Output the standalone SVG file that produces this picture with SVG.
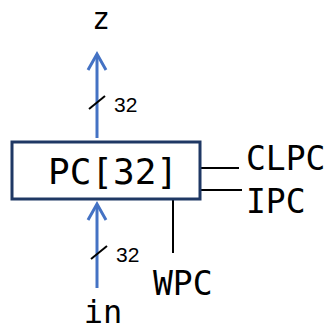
<svg xmlns="http://www.w3.org/2000/svg" width="329" height="330" viewBox="0 0 329 330">
<style>
.mono{font-family:"DejaVu Sans Mono","Liberation Mono",monospace;fill:#000}
.w{font-family:"Liberation Sans",Arial,sans-serif;font-size:21px;fill:#000}
.bus{stroke:#4472c4;stroke-width:3;fill:none}
.k{stroke:#000;stroke-width:2;fill:none}
</style>
<rect width="329" height="330" fill="#fff"/>
<g id="connectors">
<line class="bus" x1="97" y1="138" x2="97" y2="55"/>
<polyline class="bus" points="88,70 97,54 106,70"/>
<line class="k" x1="89" y1="109" x2="105" y2="96"/>
<line class="bus" x1="97" y1="288" x2="97" y2="205"/>
<polyline class="bus" points="88,220 97,204 106,220"/>
<line class="k" x1="91" y1="259" x2="107" y2="246"/>
<line class="k" x1="200" y1="168" x2="239" y2="168"/>
<line class="k" x1="200" y1="190" x2="242" y2="190"/>
<line class="k" x1="173" y1="200" x2="173" y2="253"/>
</g>
<g id="pc">
<rect x="12" y="142" width="188" height="57" fill="#fff" stroke="#1f3864" stroke-width="3"/>
<text class="mono" x="113" y="184" font-size="36" text-anchor="middle">PC[32]</text>
</g>
<g id="labels">
<text class="mono" x="101" y="28.5" font-size="30" text-anchor="middle">z</text>
<text class="w" x="114" y="112">32</text>
<text class="w" x="116" y="262">32</text>
<text class="mono" x="246" y="170" font-size="33">CLPC</text>
<text class="mono" x="246" y="213" font-size="33">IPC</text>
<text class="mono" x="153" y="295" font-size="33">WPC</text>
<text class="mono" x="103" y="323" font-size="32" text-anchor="middle">in</text>
</g>
</svg>
